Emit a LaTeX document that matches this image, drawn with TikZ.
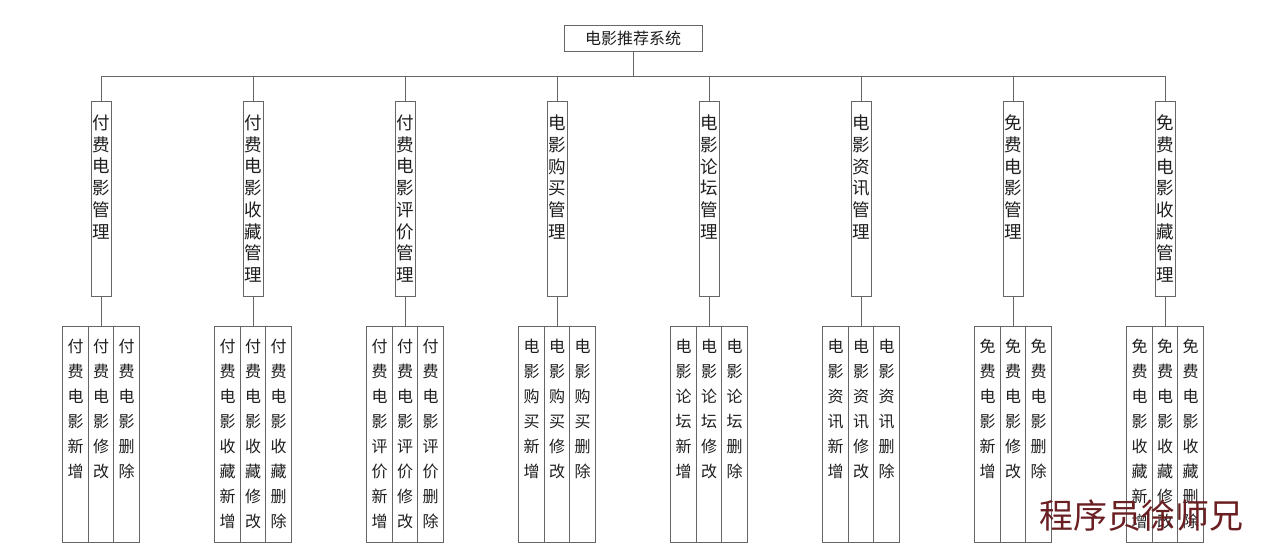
\documentclass[tikz,border=0pt]{standalone}
\usepackage{fontspec}
\setmainfont{Noto Sans CJK SC}
\newfontfamily\markfont{Noto Sans CJK SC}
\XeTeXlinebreaklocale "zh"
\XeTeXlinebreakskip=0pt plus 1pt
\usepackage{xcolor}
\usepackage{tikz}
\usetikzlibrary{positioning}
\definecolor{MSLine}{HTML}{666666}
\definecolor{MSText}{HTML}{1E1E1E}
\definecolor{MSMark}{HTML}{6A1F22}

\begin{document}
\begin{tikzpicture}[
  x=1pt, y=-1pt,
  node distance=30pt and 132pt,
  box/.style={draw=MSLine, line width=0.8pt, fill=white, inner sep=0pt, outer sep=0pt, text=MSText},
  sysbox/.style={box, minimum width=138pt, minimum height=26pt, font=\fontsize{16}{19}\selectfont},
  module/.style={box, execute at begin node={\begin{minipage}[c][195pt][t]{20pt}\centering\fontsize{17.5}{21.7}\selectfont\vspace*{14pt}}, execute at end node={\end{minipage}}},
  func/.style={box, execute at begin node={\begin{minipage}[c][216pt][t]{25.5pt}\centering\fontsize{16}{25}\selectfont\vspace*{13pt}}, execute at end node={\end{minipage}}},
  link/.style={draw=MSLine, line width=0.8pt}
]
\useasboundingbox (0,0) rectangle (1266,557);
\node[sysbox] (sys) at (633,38) {电影推荐系统};
\coordinate (bus) at (633,76);
\node[module] (paymovie) at (101,198.5) {付费电影管理};
\node[module, right=of paymovie] (payfav) {付费电影收藏管理};
\node[module, right=of payfav] (payrate) {付费电影评价管理};
\node[module, right=of payrate] (buy) {电影购买管理};
\node[module, right=of buy] (forum) {电影论坛管理};
\node[module, right=of forum] (news) {电影资讯管理};
\node[module, right=of news] (freemovie) {免费电影管理};
\node[module, right=of freemovie] (freefav) {免费电影收藏管理};
\node[func, below=of paymovie] (paymovie2) {付费电影修改};
\node[func, left=0pt of paymovie2] (paymovie1) {付费电影新增};
\node[func, right=0pt of paymovie2] (paymovie3) {付费电影删除};
\node[func, below=of payfav] (payfav2) {付费电影收藏修改};
\node[func, left=0pt of payfav2] (payfav1) {付费电影收藏新增};
\node[func, right=0pt of payfav2] (payfav3) {付费电影收藏删除};
\node[func, below=of payrate] (payrate2) {付费电影评价修改};
\node[func, left=0pt of payrate2] (payrate1) {付费电影评价新增};
\node[func, right=0pt of payrate2] (payrate3) {付费电影评价删除};
\node[func, below=of buy] (buy2) {电影购买修改};
\node[func, left=0pt of buy2] (buy1) {电影购买新增};
\node[func, right=0pt of buy2] (buy3) {电影购买删除};
\node[func, below=of forum] (forum2) {电影论坛修改};
\node[func, left=0pt of forum2] (forum1) {电影论坛新增};
\node[func, right=0pt of forum2] (forum3) {电影论坛删除};
\node[func, below=of news] (news2) {电影资讯修改};
\node[func, left=0pt of news2] (news1) {电影资讯新增};
\node[func, right=0pt of news2] (news3) {电影资讯删除};
\node[func, below=of freemovie] (freemovie2) {免费电影修改};
\node[func, left=0pt of freemovie2] (freemovie1) {免费电影新增};
\node[func, right=0pt of freemovie2] (freemovie3) {免费电影删除};
\node[func, below=of freefav] (freefav2) {免费电影收藏修改};
\node[func, left=0pt of freefav2] (freefav1) {免费电影收藏新增};
\node[func, right=0pt of freefav2] (freefav3) {免费电影收藏删除};
\draw[link] (sys) -- (bus);
\draw[link] (bus) -| (paymovie);
\draw[link] (bus) -| (payfav);
\draw[link] (bus) -| (payrate);
\draw[link] (bus) -| (buy);
\draw[link] (bus) -| (forum);
\draw[link] (bus) -| (news);
\draw[link] (bus) -| (freemovie);
\draw[link] (bus) -| (freefav);
\draw[link] (paymovie) -- (paymovie2);
\draw[link] (payfav) -- (payfav2);
\draw[link] (payrate) -- (payrate2);
\draw[link] (buy) -- (buy2);
\draw[link] (forum) -- (forum2);
\draw[link] (news) -- (news2);
\draw[link] (freemovie) -- (freemovie2);
\draw[link] (freefav) -- (freefav2);
\node[text=MSMark, font=\markfont\fontsize{34}{34}\selectfont] (mark) at (1141,516) {程序员徐师兄};
\end{tikzpicture}
\end{document}
